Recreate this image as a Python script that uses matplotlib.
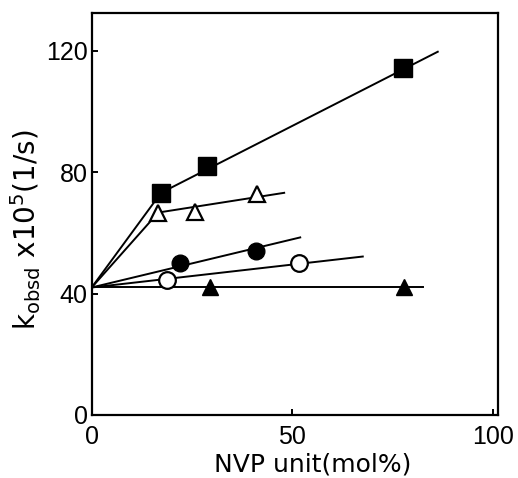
import matplotlib.pyplot as plt

# values (x: NVP unit mol%, y: k_obsd x 10^5 1/s)
k0 = 42

sq_x = [17.3, 28.8, 77.7]
sq_y = [73.2, 82.0, 114.2]
sq_end = (86.3, 119.7)

otri_x = [16.6, 25.8, 41.1]
otri_y = [66.7, 67.0, 72.8]
otri_end = (48.0, 73.2)

fcir_x = [22.0, 41.0]
fcir_y = [50.0, 54.1]
fcir_end = (52.0, 58.5)

ocir_x = [18.7, 51.8]
ocir_y = [44.5, 50.0]
ocir_end = (67.6, 52.2)

ftri_x = [29.5, 77.9]
ftri_y = [42.0, 42.0]
ftri_end = (82.7, 42.0)

xticks = [0, 50, 100]
yticks = [0, 40, 80, 120]

plt.rcParams['font.family'] = ['Liberation Sans', 'DejaVu Sans']
plt.rcParams['mathtext.fontset'] = 'dejavusans'

fig = plt.figure(figsize=(5.18, 4.78), dpi=100)
ax = fig.add_axes([0.177, 0.132, 0.785, 0.841])

lw = 1.4
# fitted lines: from the common intercept through first point, then on to the end
ax.plot([0, sq_x[0], sq_end[0]], [k0, sq_y[0], sq_end[1]], color='black', lw=lw)
ax.plot([0, otri_x[0], otri_end[0]], [k0, otri_y[0], otri_end[1]], color='black', lw=lw)
ax.plot([0, fcir_end[0]], [k0, fcir_end[1]], color='black', lw=lw)
ax.plot([0, ocir_end[0]], [k0, ocir_end[1]], color='black', lw=lw)
ax.plot([0, ftri_end[0]], [k0, ftri_end[1]], color='black', lw=lw)

ax.plot(sq_x, sq_y, 's', ms=12.5, mfc='black', mec='black', zorder=3)
ax.plot(otri_x, otri_y, '^', ms=11, mfc='white', mec='black', mew=1.6, zorder=3)
ax.plot(fcir_x, fcir_y, 'o', ms=12, mfc='black', mec='black', zorder=3)
ax.plot(ocir_x, ocir_y, 'o', ms=12, mfc='white', mec='black', mew=1.6, zorder=3)
ax.plot(ftri_x, ftri_y, '^', ms=11, mfc='black', mec='black', zorder=3)

ax.set_xlim(0, 101.4)
ax.set_ylim(0, 132.5)
ax.set_xticks(xticks)
ax.set_yticks(yticks)
for s in ax.spines.values():
    s.set_linewidth(1.6)
ax.tick_params(direction='in', length=4, width=1.4, labelsize=18)
ax.tick_params(axis='x', pad=7)
ax.tick_params(axis='y', pad=3)

ax.set_xlabel('NVP unit(mol%)', fontsize=18, family='DejaVu Sans')
ax.set_ylabel(r'k$_{\rm obsd}$ x10$^{5}$(1/s)', fontsize=20, family='DejaVu Sans')
ax.xaxis.set_label_coords(0.544, -0.094)
ax.yaxis.set_label_coords(-0.12, 0.46)

fig.savefig('out.png', dpi=100)
